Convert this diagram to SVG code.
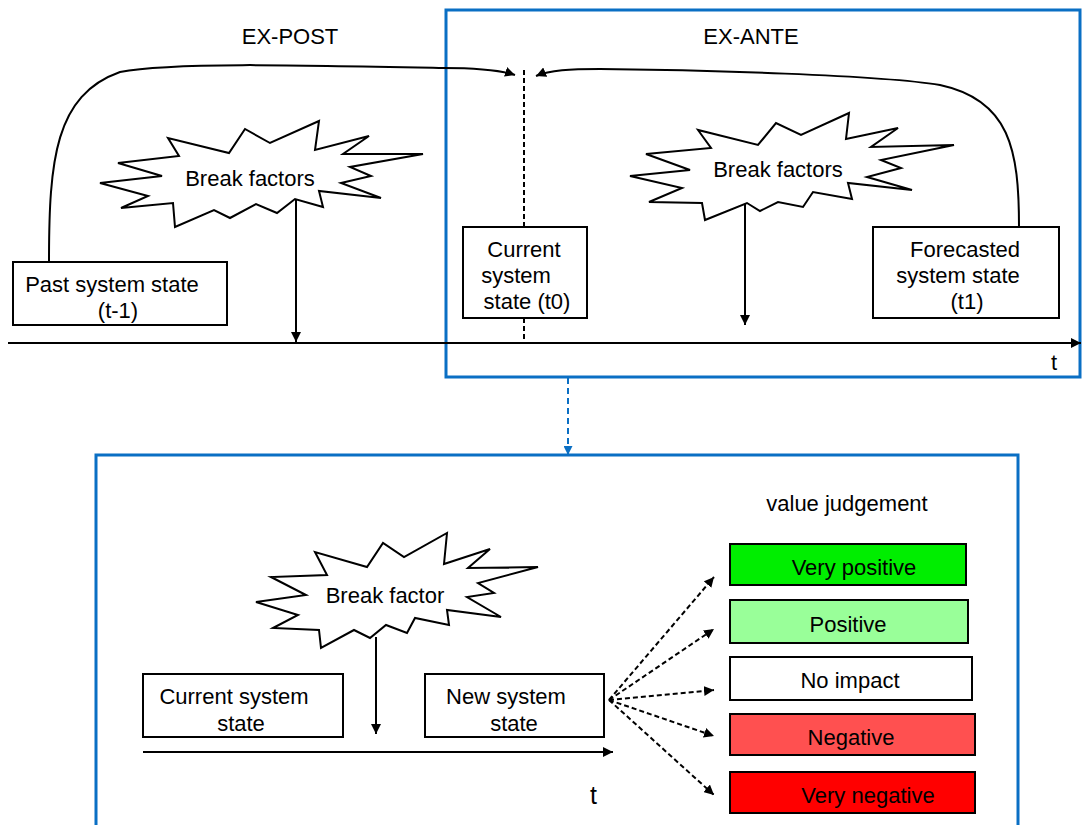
<svg xmlns="http://www.w3.org/2000/svg" width="1083" height="825" viewBox="0 0 1083 825">
  <defs>
    <style>
      text { font-family: "Liberation Sans", Arial, sans-serif; font-size: 22px; fill: #000; }
      .mid { text-anchor: middle; }
      .box { fill: #fff; stroke: #000; stroke-width: 2; }
      .star { fill: #fff; stroke: #000; stroke-width: 2; stroke-linejoin: miter; }
      .frame { fill: none; stroke: #0a6fc4; stroke-width: 3; }
      .line { fill: none; stroke: #000; stroke-width: 2; }
      .dash { fill: none; stroke: #000; stroke-width: 2; stroke-dasharray: 5 3; }
    </style>
    <marker id="arrow" viewBox="0 0 10 10" refX="10" refY="5" markerWidth="10" markerHeight="10" markerUnits="userSpaceOnUse" orient="auto">
      <path d="M0,0 L10,5 L0,10 z" fill="#000"/>
    </marker>
    <marker id="arrowBlue" viewBox="0 0 10 10" refX="10" refY="5" markerWidth="9" markerHeight="9" markerUnits="userSpaceOnUse" orient="auto">
      <path d="M0,0 L10,5 L0,10 z" fill="#0a6fc4"/>
    </marker>
  </defs>

  <!-- frames -->
  <rect id="ex-ante-frame" class="frame" x="446" y="10" width="634" height="367"/>
  <rect id="evaluation-frame" class="frame" x="96" y="455" width="922" height="380"/>

  <!-- headings -->
  <text class="mid" x="290" y="44">EX-POST</text>
  <text class="mid" x="751" y="44">EX-ANTE</text>

  <!-- connectors -->
  <g id="connectors">
    <!-- upper time axis -->
    <line class="line" x1="8" y1="343" x2="1081" y2="343" marker-end="url(#arrow)"/>
    <!-- present marker -->
    <line class="dash" x1="524" y1="70" x2="524" y2="227"/>
    <line class="dash" x1="524" y1="318" x2="524" y2="343"/>
    <!-- past state to present -->
    <path class="line" d="M49,262 C49,160 55,95 120,72 C170,62 300,65 443,68 C475,68 500,70 515,75" marker-end="url(#arrow)"/>
    <!-- forecast to present -->
    <path class="line" d="M1019,227 C1019,150 1010,100 940,85 C880,75 700,70 600,69 C570,69 550,70 536,76" marker-end="url(#arrow)"/>
    <!-- break factor arrows -->
    <line class="line" x1="296" y1="200" x2="296" y2="342" marker-end="url(#arrow)"/>
    <line class="line" x1="745" y1="200" x2="745" y2="325" marker-end="url(#arrow)"/>
    <!-- link to evaluation frame -->
    <line x1="568" y1="378" x2="568" y2="455" stroke="#0a6fc4" stroke-width="2" stroke-dasharray="6 4" marker-end="url(#arrowBlue)"/>
    <!-- lower time axis -->
    <line class="line" x1="143" y1="752" x2="613" y2="752" marker-end="url(#arrow)"/>
    <line class="line" x1="376" y1="637" x2="376" y2="734" marker-end="url(#arrow)"/>
    <!-- value judgement fan -->
    <line class="dash" x1="609" y1="700" x2="714" y2="577" marker-end="url(#arrow)"/>
    <line class="dash" x1="609" y1="700" x2="714" y2="629" marker-end="url(#arrow)"/>
    <line class="dash" x1="609" y1="700" x2="714" y2="690" marker-end="url(#arrow)"/>
    <line class="dash" x1="609" y1="700" x2="714" y2="736" marker-end="url(#arrow)"/>
    <line class="dash" x1="609" y1="700" x2="714" y2="795" marker-end="url(#arrow)"/>
  </g>

  <!-- break factor stars -->
  <g id="break-factors-post">
    <polygon class="star" points="100,183 162,176 118,163 179,156 168,138 229,153 245,129 270,143 319,121 315,150 369,136 343,154 423,154 350,167 371,176 341,183 381,198 319,191 323,207 295,199 277,213 256,204 230,218 214,210 175,227 173,203 121,208 148,196"/>
    <text class="mid" x="250" y="186">Break factors</text>
  </g>
  <g id="break-factors-ante">
    <polygon class="star" points="630,176 690,170 646,154 711,148 698,130 758,145 776,123 801,135 849,113 846,139 898,128 871,147 954,145 881,160 901,168 867,177 912,190 848,183 852,199 813,192 803,207 778,202 760,211 747,203 705,220 702,203 649,202 682,188"/>
    <text class="mid" x="778" y="177">Break factors</text>
  </g>
  <g id="break-factor-eval">
    <polygon class="star" points="256,602 306,595 271,577 327,575 315,552 367,567 383,543 404,557 447,533 444,564 490,549 468,568 538,567 478,583 494,593 467,597 501,617 447,610 449,625 415,618 407,633 386,625 370,638 354,630 321,648 319,630 273,628 298,615"/>
    <text class="mid" x="385" y="603">Break factor</text>
  </g>

  <!-- states on the upper axis -->
  <g id="past-state">
    <rect class="box" x="13" y="262" width="214" height="63"/>
    <text class="mid" x="112" y="292">Past system state</text>
    <text class="mid" x="118" y="318">(t-1)</text>
  </g>
  <g id="current-state">
    <rect class="box" x="463" y="227" width="124" height="91"/>
    <text class="mid" x="524" y="257">Current</text>
    <text class="mid" x="516" y="283">system</text>
    <text class="mid" x="527" y="309">state (t0)</text>
  </g>
  <g id="forecast-state">
    <rect class="box" x="873" y="227" width="186" height="91"/>
    <text class="mid" x="965" y="257">Forecasted</text>
    <text class="mid" x="958" y="283">system state</text>
    <text class="mid" x="967" y="309">(t1)</text>
  </g>
  <text x="1051" y="370">t</text>

  <!-- states on the lower axis -->
  <g id="eval-current-state">
    <rect class="box" x="143" y="674" width="200" height="63"/>
    <text class="mid" x="234" y="704">Current system</text>
    <text class="mid" x="241" y="731">state</text>
  </g>
  <g id="eval-new-state">
    <rect class="box" x="425" y="674" width="179" height="63"/>
    <text class="mid" x="506" y="704">New system</text>
    <text class="mid" x="514" y="731">state</text>
  </g>
  <text x="590" y="804" style="font-size:25px">t</text>

  <!-- value judgement scale -->
  <text class="mid" x="847" y="511">value judgement</text>
  <g id="very-positive">
    <rect class="box" x="730" y="544" width="236" height="41" style="fill:#00ee00"/>
    <text class="mid" x="854" y="575">Very positive</text>
  </g>
  <g id="positive">
    <rect class="box" x="730" y="600" width="238" height="43" style="fill:#99ff99"/>
    <text class="mid" x="848" y="632">Positive</text>
  </g>
  <g id="no-impact">
    <rect class="box" x="730" y="657" width="242" height="43"/>
    <text class="mid" x="850" y="688">No impact</text>
  </g>
  <g id="negative">
    <rect class="box" x="730" y="714" width="245" height="41" style="fill:#ff5050"/>
    <text class="mid" x="851" y="745">Negative</text>
  </g>
  <g id="very-negative">
    <rect class="box" x="730" y="772" width="245" height="41" style="fill:#ff0000"/>
    <text class="mid" x="868" y="803">Very negative</text>
  </g>
</svg>
